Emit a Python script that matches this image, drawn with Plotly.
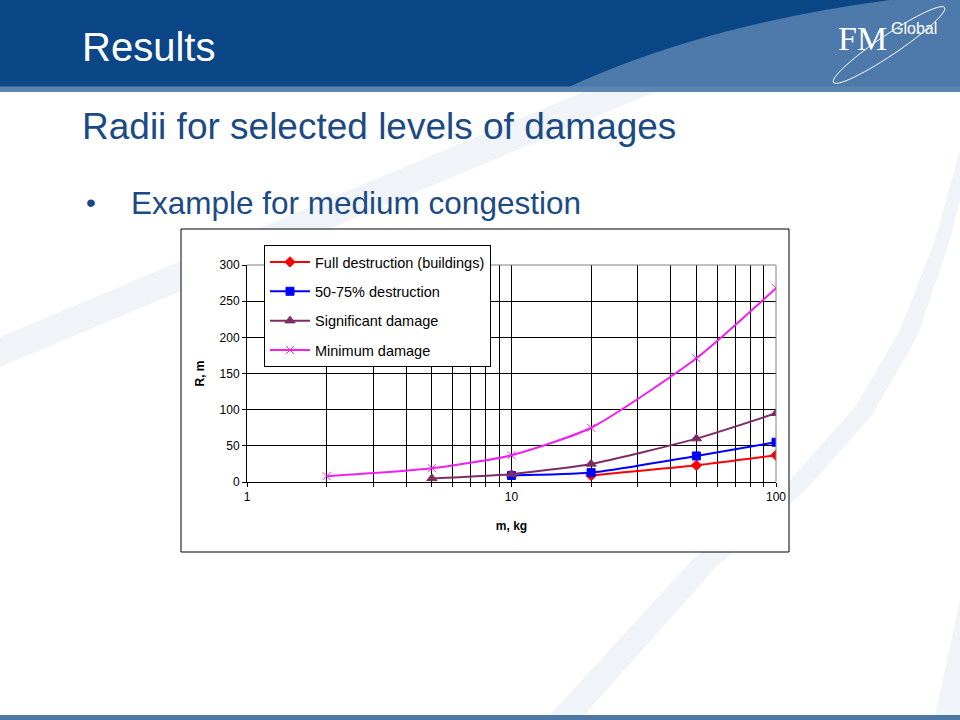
import numpy as np
import plotly.graph_objects as go

# ---------------- data ----------------
SERIES_NAMES = ["Full destruction (buildings)", "50-75% destruction",
                "Significant damage", "Minimum damage"]
M_FULL = [20, 50, 100]
R_FULL = [9, 23, 37]
M_5075 = [10, 20, 50, 100]
R_5075 = [9, 13, 36, 55]
M_SIG = [5, 10, 20, 50, 100]
R_SIG = [5, 11, 25, 60, 95]
M_MIN = [2, 5, 10, 20, 50, 100]
R_MIN = [8, 19, 37, 75, 171, 268]

X_TICKS = [1, 10, 100]
X_TICK_TEXT = ["1", "10", "100"]
X_MINOR = [2, 3, 4, 5, 6, 7, 8, 9, 20, 30, 40, 50, 60, 70, 80, 90]
Y_TICKS = [0, 50, 100, 150, 200, 250, 300]

# ---------------- geometry helpers (decoration only) ----------------
W, H = 960, 720
L, R, T, B = 247, 776, 265, 482


def px(x):
    return (x - L) / (R - L)


def py(y):
    return (B - y) / (B - T)


def path(points, close=True):
    s = "M " + " L ".join(f"{px(x):.5f},{py(y):.5f}" for x, y in points)
    return s + (" Z" if close else "")


TITLE_BLUE = "#1b4a85"
FONT = "Liberation Sans, Arial, sans-serif"

fig = go.Figure()

styles = [
    dict(color="#ff0000", symbol="diamond", size=8),
    dict(color="#0000ff", symbol="square", size=8),
    dict(color="#7e2c63", symbol="triangle-up", size=9),
    dict(color="#f020f0", symbol="x-thin-open", size=8),
]
for i, (xs, ys) in enumerate([(M_FULL, R_FULL), (M_5075, R_5075),
                              (M_SIG, R_SIG), (M_MIN, R_MIN)]):
    st = styles[i]
    fig.add_trace(go.Scatter(
        x=xs, y=ys, name=SERIES_NAMES[i], mode="lines+markers",
        legendgroup=f"g{i}",
        line=dict(color=st["color"], width=2, shape="spline", smoothing=0.6),
        marker=dict(color=st["color"], symbol=st["symbol"], size=st["size"],
                    line=dict(color=st["color"], width=1)),
    ))

shapes = []
# faint background swooshes
FAINT = "#f0f3f8"
shapes.append(dict(type="path", xref="paper", yref="paper", layer="below",
                   path=path([(0, 337), (583, 92), (655, 92), (0, 367)]),
                   fillcolor=FAINT, line=dict(width=0)))
shapes.append(dict(type="path", xref="paper", yref="paper", layer="below",
                   path=path([(545, 720), (692, 560), (790, 480), (855, 407),
                              (900, 330), (935, 240), (960, 150), (960, 200),
                              (950, 240), (918, 335), (872, 415), (806, 490),
                              (718, 565), (580, 720)]),
                   fillcolor=FAINT, line=dict(width=0)))
shapes.append(dict(type="path", xref="paper", yref="paper", layer="below",
                   path=path([(960, 600), (960, 716), (935, 716)]),
                   fillcolor=FAINT, line=dict(width=0)))
# header
shapes.append(dict(type="rect", xref="paper", yref="paper", layer="below",
                   x0=px(0), x1=px(960), y0=py(0), y1=py(87),
                   fillcolor="#0b4786", line=dict(width=0)))
shapes.append(dict(type="path", xref="paper", yref="paper", layer="below",
                   path=f"M {px(560)},{py(91)} Q {px(700)},{py(25)} {px(890)},{py(0)} "
                        f"L {px(960)},{py(0)} L {px(960)},{py(91)} Z",
                   fillcolor="#4d7aab", line=dict(width=0)))
shapes.append(dict(type="rect", xref="paper", yref="paper", layer="below",
                   x0=px(0), x1=px(960), y0=py(86.5), y1=py(92),
                   fillcolor="#5b86b4", line=dict(width=0)))
# bottom rule
shapes.append(dict(type="rect", xref="paper", yref="paper", layer="below",
                   x0=px(0), x1=px(960), y0=py(715), y1=py(720),
                   fillcolor="#4d77a5", line=dict(width=0)))
# logo ellipse
t = np.linspace(0, 2 * np.pi, 60)
ang = np.deg2rad(-34)
ex = 67 * np.cos(t)
ey = 10 * np.sin(t)
pts = [(889 + a * np.cos(ang) - b * np.sin(ang), 45 + a * np.sin(ang) + b * np.cos(ang))
       for a, b in zip(ex, ey)]
shapes.append(dict(type="path", xref="paper", yref="paper", layer="below",
                   path=path(pts), line=dict(color="white", width=1),
                   fillcolor="rgba(0,0,0,0)"))
# chart box
shapes.append(dict(type="rect", xref="paper", yref="paper", layer="below",
                   x0=px(181), x1=px(789), y0=py(229), y1=py(552),
                   fillcolor="white", line=dict(color="black", width=1)))
# gray plot border top / right
shapes.append(dict(type="line", xref="paper", yref="paper", layer="above",
                   x0=0, x1=1, y0=1, y1=1, line=dict(color="#808080", width=1)))
shapes.append(dict(type="line", xref="paper", yref="paper", layer="above",
                   x0=1, x1=1, y0=0, y1=1, line=dict(color="#808080", width=1)))

annotations = [
    dict(text="Results", x=px(80), y=py(47), xanchor="left", yanchor="middle",
         font=dict(family=FONT, size=40, color="white")),
    dict(text="Radii for selected levels of damages", x=px(80), y=py(126),
         xanchor="left", yanchor="middle",
         font=dict(family=FONT, size=37, color=TITLE_BLUE)),
    dict(text="•", x=px(84), y=py(203), xanchor="left", yanchor="middle",
         font=dict(family=FONT, size=28, color=TITLE_BLUE)),
    dict(text="Example for medium congestion", x=px(129), y=py(203),
         xanchor="left", yanchor="middle",
         font=dict(family=FONT, size=31.5, color=TITLE_BLUE)),
    dict(text="FM", x=px(889), y=py(38), xanchor="right", yanchor="middle",
         font=dict(family="Liberation Serif, serif", size=34, color="white")),
    dict(text="Global", x=px(889), y=py(28), xanchor="left", yanchor="middle",
         font=dict(family=FONT, size=16, color="white")),
]
for a in annotations:
    a.update(xref="paper", yref="paper", showarrow=False)

fig.update_layout(
    width=W, height=H,
    margin=dict(l=L, r=W - R, t=T, b=H - B, autoexpand=False),
    paper_bgcolor="white", plot_bgcolor="white",
    font=dict(family=FONT, size=12, color="black"),
    shapes=shapes, annotations=annotations,
    showlegend=True,
    legend=dict(x=px(264), y=py(245), xanchor="left", yanchor="top",
                bgcolor="white", bordercolor="black", borderwidth=1,
                font=dict(family=FONT, size=14.5, color="black"),
                traceorder="grouped", tracegroupgap=7.5, itemwidth=40),
    xaxis=dict(type="log", range=[0, 2], tickmode="array", tickvals=X_TICKS,
               ticktext=X_TICK_TEXT, showgrid=True, gridcolor="black", gridwidth=1,
               showline=True, linecolor="black", linewidth=1,
               ticks="outside", ticklen=4, tickcolor="black",
               minor=dict(tickmode="array", tickvals=X_MINOR, showgrid=True,
                          gridcolor="black", gridwidth=1, ticks="outside",
                          ticklen=4, tickcolor="black"),
               title=dict(text="<b>m, kg</b>", standoff=18,
                          font=dict(family=FONT, size=12, color="black")),
               tickfont=dict(family=FONT, size=12, color="black")),
    yaxis=dict(range=[0, 300], tickmode="array", tickvals=Y_TICKS,
               showgrid=True, gridcolor="black", gridwidth=1, zeroline=False,
               showline=True, linecolor="black", linewidth=1,
               ticks="outside", ticklen=4, tickcolor="black",
               title=dict(text="<b>R, m</b>", standoff=12,
                          font=dict(family=FONT, size=12, color="black")),
               tickfont=dict(family=FONT, size=12, color="black")),
)

fig.write_html("out.html",
               config={"displayModeBar": False},
               post_script="document.body.style.margin='0';document.body.style.overflow='hidden';")
